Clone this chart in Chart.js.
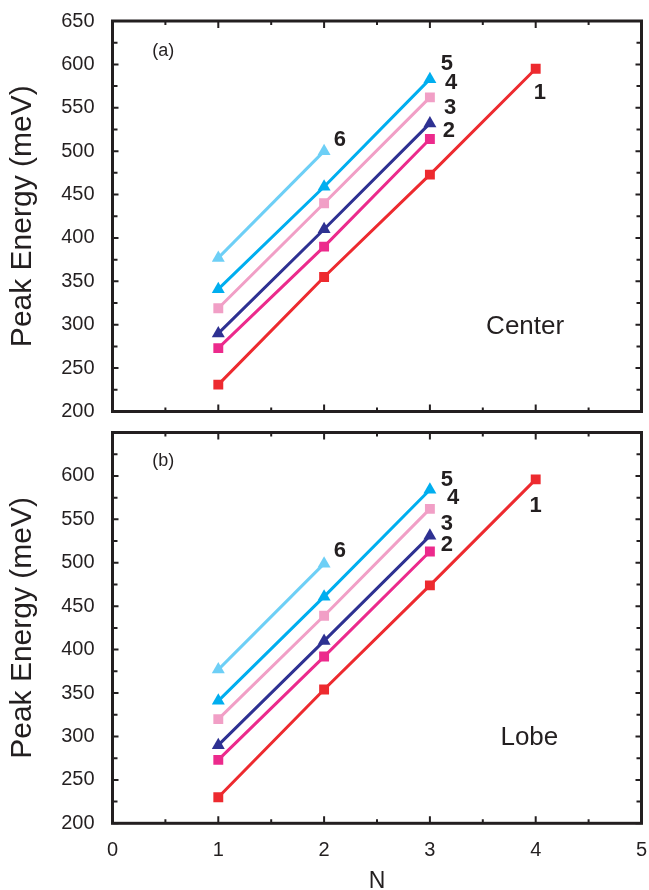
<!DOCTYPE html>
<html>
<head>
<meta charset="utf-8">
<script src="https://cdn.jsdelivr.net/npm/chart.js@4"></script>
<style>
  html, body { margin: 0; padding: 0; background: #fff; }
  #wrap { position: relative; width: 649px; height: 890px; }
  #wrap canvas { position: absolute; left: 0; }
  #top-panel { top: 0; }
  #bottom-panel { top: 425px; }
</style>
</head>
<body>
<div id="wrap">
  <canvas id="top-panel" width="649" height="425"></canvas>
  <canvas id="bottom-panel" width="649" height="465"></canvas>
</div>
<script>
// N (x axis) and peak energies in meV
const nValues = [1, 2, 3, 4];

// (a) Center
const center1 = [231, 355, 473, 595];
const center2 = [273, 390, 514];
const center3 = [290, 410, 532];
const center4 = [319, 440, 562];
const center5 = [341, 459, 583];
const center6 = [377, 500];

// (b) Lobe
const lobe1 = [230, 354, 474, 596];
const lobe2 = [273, 392, 513];
const lobe3 = [290, 410, 531];
const lobe4 = [320, 439, 562];
const lobe5 = [341, 461, 584];
const lobe6 = [377, 499];

const curveNames = ["1", "2", "3", "4", "5", "6"];
const xTickLabels = ["0", "1", "2", "3", "4", "5"];

const INK = "#231f20";
const FONT = "'Liberation Sans', Arial, sans-serif";

const seriesStyle = [
  { color: "#ed2a2f", shape: "rect", r: 7 },
  { color: "#ec2a8c", shape: "rect", r: 7 },
  { color: "#2e3192", shape: "triangle", r: 7.5 },
  { color: "#f19fc6", shape: "rect", r: 7 },
  { color: "#00aeef", shape: "triangle", r: 7.5 },
  { color: "#6dcff6", shape: "triangle", r: 7.5 },
];

function toPoints(values) {
  return values.map((e, i) => ({ x: nValues[i], y: e }));
}

function buildDatasets(seriesList) {
  return seriesList.map((values, i) => ({
    label: curveNames[i],
    data: toPoints(values),
    borderColor: seriesStyle[i].color,
    backgroundColor: seriesStyle[i].color,
    borderWidth: 3,
    pointStyle: seriesStyle[i].shape,
    pointRadius: seriesStyle[i].r,
    pointBorderWidth: 0,
    pointBackgroundColor: seriesStyle[i].color,
    tension: 0,
  }));
}

// label spots in data units (N, meV)
const topNotes = [
  { text: "1", x: 4.04, y: 567, bold: true },
  { text: "2", x: 3.18, y: 523, bold: true },
  { text: "3", x: 3.19, y: 550, bold: true },
  { text: "4", x: 3.2, y: 579, bold: true },
  { text: "5", x: 3.16, y: 600, bold: true },
  { text: "6", x: 2.15, y: 513, bold: true },
  { text: "(a)", x: 0.48, y: 615, size: 18 },
  { text: "Center", x: 3.9, y: 298, size: 26 },
];
const bottomNotes = [
  { text: "1", x: 4.0, y: 566, bold: true },
  { text: "2", x: 3.16, y: 521, bold: true },
  { text: "3", x: 3.16, y: 545, bold: true },
  { text: "4", x: 3.22, y: 575, bold: true },
  { text: "5", x: 3.16, y: 595, bold: true },
  { text: "6", x: 2.15, y: 514, bold: true },
  { text: "(b)", x: 0.48, y: 617, size: 18 },
  { text: "Lobe", x: 3.94, y: 298, size: 26 },
];

const frameTicks = {
  id: "frameTicks",
  afterDatasetsDraw(chart, args, opts) {
    const { ctx, chartArea: a, scales: { x, y } } = chart;
    ctx.save();
    ctx.strokeStyle = INK;
    ctx.lineWidth = 2;
    ctx.beginPath();
    for (let v = x.min; v <= x.max; v += 0.5) {
      const px = x.getPixelForValue(v);
      const len = v % 1 === 0 ? 7 : 4;
      ctx.moveTo(px, a.bottom);
      ctx.lineTo(px, a.bottom - len);
      ctx.moveTo(px, a.top);
      ctx.lineTo(px, a.top + len);
    }
    for (let v = y.min; v <= y.max; v += 25) {
      const py = y.getPixelForValue(v);
      const len = v % 50 === 0 ? 6 : 5;
      ctx.moveTo(a.left, py);
      ctx.lineTo(a.left + len, py);
      ctx.moveTo(a.right, py);
      ctx.lineTo(a.right - len, py);
    }
    ctx.stroke();
    ctx.lineWidth = 3;
    ctx.strokeRect(a.left, a.top, a.right - a.left, a.bottom - a.top);

    ctx.fillStyle = INK;
    ctx.textAlign = "center";
    ctx.textBaseline = "middle";
    (opts.notes || []).forEach((n) => {
      ctx.font = (n.bold ? "bold " : "") + (n.size || 22) + "px " + FONT;
      ctx.fillText(n.text, x.getPixelForValue(n.x), y.getPixelForValue(n.y));
    });
    ctx.restore();
  },
};

function makePanel(canvasId, seriesList, notes, showX, pad, xHeight) {
  const canvas = document.getElementById(canvasId);
  return new Chart(canvas.getContext("2d"), {
    type: "line",
    data: { datasets: buildDatasets(seriesList) },
    plugins: [frameTicks],
    options: {
      responsive: false,
      animation: false,
      layout: { padding: pad },
      plugins: {
        legend: { display: false },
        tooltip: { enabled: false },
        frameTicks: { notes },
      },
      scales: {
        x: {
          type: "linear",
          min: 0,
          max: 5,
          display: showX,
          grid: { display: false },
          border: { display: false },
          ticks: {
            stepSize: 1,
            padding: 7,
            color: INK,
            font: { family: FONT, size: 20 },
            callback: (v) => xTickLabels[v],
          },
          title: {
            display: true,
            text: "N",
            color: INK,
            font: { family: FONT, size: 23, lineHeight: 0.7 },
            padding: { top: 0, bottom: 0 },
          },
          afterFit: (scale) => {
            if (xHeight) scale.height = xHeight;
            scale.paddingLeft = 0;
            scale.paddingRight = 0;
          },
        },
        y: {
          min: 200,
          max: 650,
          grid: { display: false },
          border: { display: false },
          ticks: {
            stepSize: 50,
            padding: 10,
            color: INK,
            font: { family: FONT, size: 20 },
          },
          afterBuildTicks: (scale) => {
            if (showX) scale.ticks = scale.ticks.filter((t) => t.value <= 600);
          },
          title: {
            display: true,
            text: "Peak Energy (meV)",
            color: INK,
            font: { family: FONT, size: 30 },
            padding: { top: 5, bottom: 0 },
          },
          afterFit: (scale) => {
            scale.width = 112.5;
            scale.paddingTop = 0;
            scale.paddingBottom = 0;
          },
        },
      },
    },
  });
}

makePanel(
  "top-panel",
  [center1, center2, center3, center4, center5, center6],
  topNotes,
  false,
  { top: 21, right: 6, bottom: 13.5, left: 0 },
  0
);
makePanel(
  "bottom-panel",
  [lobe1, lobe2, lobe3, lobe4, lobe5, lobe6],
  bottomNotes,
  true,
  { top: 7.3, right: 6, bottom: 0, left: 0 },
  66.7
);
</script>
</body>
</html>
